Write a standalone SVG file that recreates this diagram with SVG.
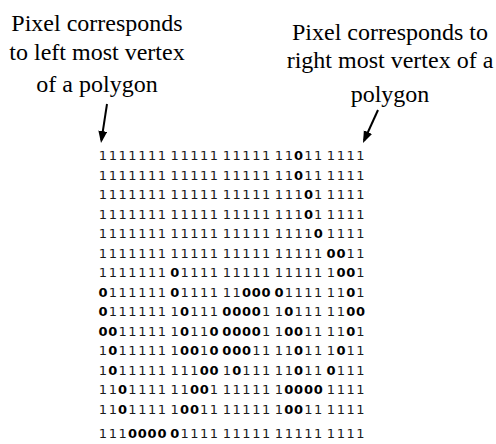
<svg xmlns="http://www.w3.org/2000/svg" width="496" height="444" viewBox="0 0 496 444">
<style>
.lbl{font-family:"Liberation Serif","Times New Roman",serif;font-size:24px;fill:#000;text-anchor:middle}
.r{font-family:"DejaVu Sans",Verdana,sans-serif;font-size:13px;fill:#1a1a1a;text-anchor:middle}
.z{font-weight:bold;fill:#000}
.arrow{stroke:#000;stroke-width:2;fill:none}
</style>
<defs>
<marker id="ah" markerUnits="userSpaceOnUse" markerWidth="12" markerHeight="10" refX="9" refY="4.5" orient="auto">
<path d="M0,0 L12,4.5 L0,9 Z" fill="#000"/>
</marker>
</defs>
<rect width="496" height="444" fill="#fff"/>
<g id="label-left">
<text class="lbl" x="97" y="31">Pixel corresponds</text>
<text class="lbl" x="97" y="60">to left most vertex</text>
<text class="lbl" x="97" y="92">of a polygon</text>
</g>
<g id="label-right">
<text class="lbl" x="390" y="40">Pixel corresponds to</text>
<text class="lbl" x="390" y="68">right most vertex of a</text>
<text class="lbl" x="390" y="102">polygon</text>
</g>
<g id="pixel-grid">
<text class="r" y="160" x="103 112.8 122.6 132.5 142.3 152.1 161.9 174.7 184.6 194.4 204.2 214 226.8 236.7 246.5 256.3 266.1 278.9 288.8 298.6 308.4 318.2 331 340.9 350.7 360.5">1111111111111111111<tspan class="z">0</tspan>111111</text>
<text class="r" y="179.5" x="103 112.8 122.6 132.5 142.3 152.1 161.9 174.7 184.6 194.4 204.2 214 226.8 236.7 246.5 256.3 266.1 278.9 288.8 298.6 308.4 318.2 331 340.9 350.7 360.5">1111111111111111111<tspan class="z">0</tspan>111111</text>
<text class="r" y="199" x="103 112.8 122.6 132.5 142.3 152.1 161.9 174.7 184.6 194.4 204.2 214 226.8 236.7 246.5 256.3 266.1 278.9 288.8 298.6 308.4 318.2 331 340.9 350.7 360.5">11111111111111111111<tspan class="z">0</tspan>11111</text>
<text class="r" y="218.5" x="103 112.8 122.6 132.5 142.3 152.1 161.9 174.7 184.6 194.4 204.2 214 226.8 236.7 246.5 256.3 266.1 278.9 288.8 298.6 308.4 318.2 331 340.9 350.7 360.5">11111111111111111111<tspan class="z">0</tspan>11111</text>
<text class="r" y="238" x="103 112.8 122.6 132.5 142.3 152.1 161.9 174.7 184.6 194.4 204.2 214 226.8 236.7 246.5 256.3 266.1 278.9 288.8 298.6 308.4 318.2 331 340.9 350.7 360.5">111111111111111111111<tspan class="z">0</tspan>1111</text>
<text class="r" y="257.5" x="103 112.8 122.6 132.5 142.3 152.1 161.9 174.7 184.6 194.4 204.2 214 226.8 236.7 246.5 256.3 266.1 278.9 288.8 298.6 308.4 318.2 331 340.9 350.7 360.5">1111111111111111111111<tspan class="z">00</tspan>11</text>
<text class="r" y="277" x="103 112.8 122.6 132.5 142.3 152.1 161.9 174.7 184.6 194.4 204.2 214 226.8 236.7 246.5 256.3 266.1 278.9 288.8 298.6 308.4 318.2 331 340.9 350.7 360.5">1111111<tspan class="z">0</tspan>111111111111111<tspan class="z">00</tspan>1</text>
<text class="r" y="296.5" x="103 112.8 122.6 132.5 142.3 152.1 161.9 174.7 184.6 194.4 204.2 214 226.8 236.7 246.5 256.3 266.1 278.9 288.8 298.6 308.4 318.2 331 340.9 350.7 360.5"><tspan class="z">0</tspan>111111<tspan class="z">0</tspan>111111<tspan class="z">0000</tspan>111111<tspan class="z">0</tspan>1</text>
<text class="r" y="316" x="103 112.8 122.6 132.5 142.3 152.1 161.9 174.7 184.6 194.4 204.2 214 226.8 236.7 246.5 256.3 266.1 278.9 288.8 298.6 308.4 318.2 331 340.9 350.7 360.5"><tspan class="z">0</tspan>1111111<tspan class="z">0</tspan>111<tspan class="z">0000</tspan>11<tspan class="z">0</tspan>11111<tspan class="z">00</tspan></text>
<text class="r" y="335.5" x="103 112.8 122.6 132.5 142.3 152.1 161.9 174.7 184.6 194.4 204.2 214 226.8 236.7 246.5 256.3 266.1 278.9 288.8 298.6 308.4 318.2 331 340.9 350.7 360.5"><tspan class="z">00</tspan>111111<tspan class="z">0</tspan>11<tspan class="z">00000</tspan>11<tspan class="z">00</tspan>1111<tspan class="z">0</tspan>1</text>
<text class="r" y="355" x="103 112.8 122.6 132.5 142.3 152.1 161.9 174.7 184.6 194.4 204.2 214 226.8 236.7 246.5 256.3 266.1 278.9 288.8 298.6 308.4 318.2 331 340.9 350.7 360.5">1<tspan class="z">0</tspan>111111<tspan class="z">00</tspan>1<tspan class="z">0000</tspan>1111<tspan class="z">0</tspan>111<tspan class="z">0</tspan>11</text>
<text class="r" y="374.5" x="103 112.8 122.6 132.5 142.3 152.1 161.9 174.7 184.6 194.4 204.2 214 226.8 236.7 246.5 256.3 266.1 278.9 288.8 298.6 308.4 318.2 331 340.9 350.7 360.5">1<tspan class="z">0</tspan>11111111<tspan class="z">00</tspan>1<tspan class="z">0</tspan>11111<tspan class="z">0</tspan>11<tspan class="z">0</tspan>111</text>
<text class="r" y="394" x="103 112.8 122.6 132.5 142.3 152.1 161.9 174.7 184.6 194.4 204.2 214 226.8 236.7 246.5 256.3 266.1 278.9 288.8 298.6 308.4 318.2 331 340.9 350.7 360.5">11<tspan class="z">0</tspan>111111<tspan class="z">00</tspan>1111111<tspan class="z">0000</tspan>1111</text>
<text class="r" y="413.5" x="103 112.8 122.6 132.5 142.3 152.1 161.9 174.7 184.6 194.4 204.2 214 226.8 236.7 246.5 256.3 266.1 278.9 288.8 298.6 308.4 318.2 331 340.9 350.7 360.5">11<tspan class="z">0</tspan>11111<tspan class="z">00</tspan>11111111<tspan class="z">00</tspan>111111</text>
<text class="r" y="437.5" x="103 112.8 122.6 132.5 142.3 152.1 161.9 174.7 184.6 194.4 204.2 214 226.8 236.7 246.5 256.3 266.1 278.9 288.8 298.6 308.4 318.2 331 340.9 350.7 360.5">111<tspan class="z">00000</tspan>111111111111111111</text>
</g>
<g id="connectors">
<line class="arrow" x1="107" y1="104" x2="101.46" y2="140.04" marker-end="url(#ah)"/>
<line class="arrow" x1="378" y1="110" x2="364.24" y2="140.27" marker-end="url(#ah)"/>
</g>
</svg>
